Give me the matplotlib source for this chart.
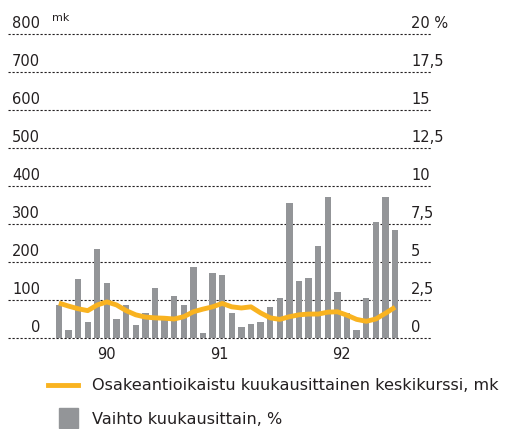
import matplotlib
matplotlib.use("Agg")
import matplotlib.pyplot as plt
import matplotlib.transforms as mtrans
from matplotlib.lines import Line2D
from matplotlib.patches import Rectangle

plt.rcParams['font.family'] = ['DejaVu Sans']

# kuukausittainen vaihto, % (oikea asteikko)
vaihto = [2.2, 0.5, 3.9, 1.05, 5.85, 3.6, 1.25, 2.2, 0.85, 1.65, 3.3, 1.25,
          2.75, 2.2, 4.7, 0.3, 4.3, 4.15, 1.65, 0.7, 0.9, 1.05, 2.05, 2.6,
          8.9, 3.75, 3.95, 6.05, 9.3, 3.0, 1.65, 0.5, 2.6, 7.6, 9.3, 7.1]
# osakeantioikaistu keskikurssi, mk (vasen asteikko)
kurssi = [92, 84, 77, 72, 87, 95, 87, 72, 61, 55, 53, 52,
          50, 56, 69, 76, 82, 91, 82, 79, 82, 66, 53, 49,
          56, 61, 63, 63, 68, 69, 60, 49, 44, 50, 65, 81]
vuodet = ['90', '91', '92']
vasen_labels = ['0', '100', '200', '300', '400', '500', '600', '700', '800']
oikea_labels = ['0', '2,5', '5', '7,5', '10', '12,5', '15', '17,5', '20 %']
legend_labels = ['Osakeantioikaistu kuukausittainen keskikurssi, mk',
                 'Vaihto kuukausittain, %']

W, H = 505, 429
txt = '#231f20'
orange = '#f9b320'
grey = '#939598'

def fx(px):
    return px / W

def fy(py):
    return 1 - py / H

fig = plt.figure(figsize=(5.05, 4.29), dpi=100)
ax = fig.add_axes([fx(8), fy(338), fx(424), 304 / H])
ax2 = ax.twinx()

n = len(vaihto)
x = list(range(n))
ax.set_xlim(-5.3, 38.85)
ax.set_ylim(0, 800)
ax2.set_ylim(0, 20)

for a in (ax, ax2):
    for s in a.spines.values():
        s.set_visible(False)
    a.set_xticks([])
    a.set_yticks([])

# gridlines on the mk scale
for i in range(9):
    ax.axhline(i * 100, color=txt, lw=0.8, dashes=(2, 1.6), zorder=1,
               clip_on=False)

# bars on % scale, line on mk scale
ax2.bar(x, vaihto, width=0.66, color=grey, zorder=2)
ax2.plot(x, [k / 40 for k in kurssi], color=orange, lw=3.5,
         solid_capstyle='butt', zorder=3)

left_tr = mtrans.blended_transform_factory(fig.transFigure, ax.transData)
for i, (l, r) in enumerate(zip(vasen_labels, oikea_labels)):
    yv = i * 100
    ax.text(fx(40), yv + 9, l, transform=left_tr, ha='right', va='bottom',
            fontsize=10.5, color=txt)
    ax.text(fx(411), yv + 9, r, transform=left_tr, ha='left', va='bottom',
            fontsize=10.5, color=txt)
ax.text(fx(52), fy(21), 'mk', transform=fig.transFigure, ha='left',
        va='baseline', fontsize=8, color=txt)

# vuodet
year_tr = mtrans.blended_transform_factory(ax.transData, fig.transFigure)
for xv, v in zip([5.0, 16.7, 29.4], vuodet):
    ax.text(xv, fy(359), v, transform=year_tr, ha='center', va='baseline',
            fontsize=10.5, color=txt)

# selite
fig.add_artist(Line2D([fx(48), fx(78)], [fy(385), fy(385)], color=orange, lw=3.5,
                      transform=fig.transFigure))
fig.add_artist(Rectangle((fx(59), fy(428)), fx(19), 20 / H, color=grey,
                         transform=fig.transFigure))
fig.text(fx(92), fy(386), legend_labels[0], ha='left', va='center',
         fontsize=11.6, color=txt)
fig.text(fx(92), fy(419), legend_labels[1], ha='left', va='center',
         fontsize=11.6, color=txt)

fig.savefig('out.png', dpi=100)
